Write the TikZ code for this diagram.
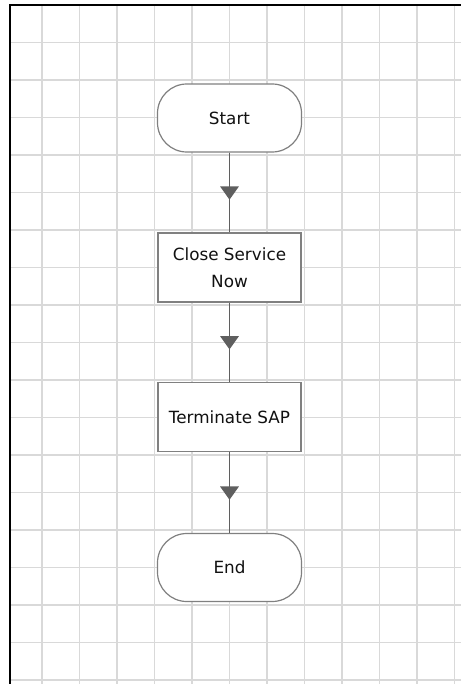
\documentclass[tikz,border=0pt]{standalone}
\usepackage{fontspec}
\setmainfont{DejaVu Sans}
\usetikzlibrary{arrows.meta,decorations.markings}
\definecolor{gridc}{HTML}{D9D9D9}
\definecolor{edgec}{HTML}{808080}
\definecolor{linec}{HTML}{5F5F5F}
\definecolor{textc}{HTML}{111111}
\tikzset{
  gridline/.style={draw=gridc, line width=1.1pt},
  frameline/.style={draw=black, line width=1.6pt},
  terminal/.style={draw=edgec, line width=0.9pt, fill=white, rounded corners=22pt,
    minimum width=108pt, minimum height=51pt, inner sep=0pt, text=textc,
    font=\fontsize{12.6}{20.6}\selectfont},
  process/.style={draw=edgec, line width=0.9pt, fill=white,
    minimum width=107.25pt, minimum height=51.75pt, inner sep=0pt, text=textc,
    align=center, font=\fontsize{12.6}{20.6}\selectfont},
  flow/.style={draw=linec, line width=1pt,
    postaction={decorate},
    decoration={markings, mark=at position 0.59 with {\arrow{Triangle[width=14pt,length=10pt,fill=linec]}}}}
}
\begin{document}
\begin{tikzpicture}[x=0.75pt,y=-0.75pt]
\useasboundingbox (0,0) rectangle (461,684);
\fill[white] (0,0) rectangle (461,684);
% grid
\foreach \k in {0,...,11} {
  \draw[gridline] ({42+37.5*\k},5) -- ({42+37.5*\k},684);
}
\foreach \k in {1,...,18} {
  \draw[gridline] (10,{5.2+37.5*\k}) -- (461,{5.2+37.5*\k});
}
% frame
\draw[frameline] (10,684) -- (10,5) -- (461,5);
% nodes
\node[terminal] (start) at (229.5,118) {Start};
\node[process]  (close) at (229.5,267.5) {Close Service\\Now};
\node[process]  (term)  at (229.5,417) {Terminate SAP};
\node[terminal] (end)   at (229.5,567.5) {End};
% connectors
\draw[flow] (start.south) -- (close.north);
\draw[flow] (close.south) -- (term.north);
\draw[flow] (term.south) -- (end.north);
\end{tikzpicture}
\end{document}
